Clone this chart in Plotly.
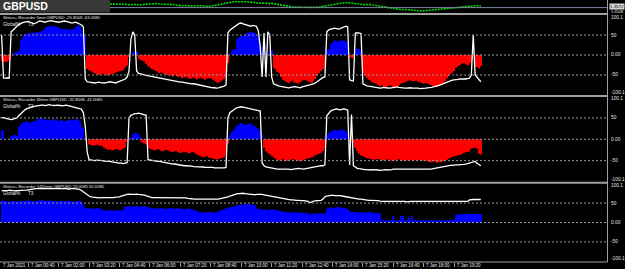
import plotly.graph_objects as go

# ---------------- data ----------------
symbol = "GBPUSD"
bar_minutes = [-30 + 5 * i for i in range(253)]  # 5-min bars, minutes from 7 Jan 00:00

h1 = ([-15, -17, -18, -17, -14] + [0, 0] + [6, 8, 10] + [38, 42] +
      [50, 52, 55, 54, 56, 55, 57, 56, 58, 60, 62] +
      [68, 70, 72, 71, 73, 72, 70, 68, 66, 65, 64, 66, 65, 63, 64, 65] +
      [70, 75, 72, 66, 55] + [48] +
      [-35, -38, -40, -44, -46, -48, -50, -49, -47, -48, -50, -51, -49, -48, -46, -44, -42, -40, -40, -38, -32, -26] +
      [-5, 0] + [8, 9, 7] + [-8, -12, -14, -16] +
      [-22, -28, -32, -35, -38, -40, -42, -45, -44, -46, -48, -50, -47, -52, -54, -50] +
      [-52, -55, -54, -58, -56, -55, -57, -60, -58, -56, -59, -61, -58, -57, -60, -62, -59, -58] +
      [-58, -62, -66, -68, -70, -67, -64, -60, -55] + [-20, 0] + [12, 14, 15, 40] +
      [45, 48, 46, 52, 55] + [56, 58, 57, 55, 52] + [45, 30, 20] + [5, 0, 0, 10, 12] +
      [-30, -35, -42, -45, -55, -62, -65, -68, -70, -66, -64, -68, -70, -72, -68, -65, -62, -64, -66, -68, -70, -65, -60, -52, -45, -40, -35, -30] +
      [12, 15, 28, 32, 35, 36, 34, 35, 37, 36, 34, 30] + [-5, -8, -6] + [14, 16, 15, 12] +
      [-45, -52, -58, -62, -65, -68, -70, -72, -75, -78, -76, -80, -82, -78, -75, -77, -80, -82, -79, -76, -72, -70, -68, -66, -64, -63] +
      [-65, -66, -64, -67, -68, -70, -72, -70, -72, -74, -76] +
      [-78, -80, -79, -77, -75, -72, -65, -58] + [-52, -48, -45, -40, -32, -28] +
      [-25, -22, -20, -24, -26, -22, -18] + [0] + [-28, -30, -34, -28])

l1 = ([50] + [-58, -58, -57, -58] + [58] + [62, 68, 72, 76, 79, 81, 82] +
      [83, 84, 82, 80, 78, 80, 83, 85, 84, 83, 82, 84, 85, 86, 85, 84, 83, 82, 83, 84, 85, 84, 83, 82, 80, 81, 82, 80, 78, 75, 70] +
      [-60] +
      [-67, -68, -69, -70, -70, -69, -68, -69, -70, -70, -69, -68, -67, -68, -69, -70, -68, -66, -64, -62, -60, -55] +
      [-40, 40, 58, 50, -40] +
      [-46, -48, -50, -50, -51, -52, -52, -53, -54, -55, -56, -58, -59, -60, -60, -61, -62, -63, -64, -65, -66, -67, -68, -68, -69, -70, -70, -71, -72, -72, -73, -74, -75, -76, -78, -79, -80, -80, -81] +
      [-82, -82, -83, -82, -81, -80, -78, -75] + [55] +
      [62, 66, 70, 72, 76, 79, 80, 78, 76, 74, 73, 72, 74, 73, 72] +
      [60, 20, -55, 55, -55, 58, 50, -55] +
      [-72, -75, -76, -78, -79, -80, -81, -82, -82, -81, -80, -79, -80, -81, -82, -80, -78, -77, -76, -75, -74, -72, -70, -66, -62, -58, -56, -55] +
      [58, 63, 65, 66, 67, 66, 65, 66, 68, 70, 72, 70] + [-62, -64, -65] + [55, 56, 55, 54] +
      [-72, -75, -77, -78, -79, -80, -80, -81, -82, -83, -82, -81, -82, -83, -83, -82, -81, -80, -80, -81, -82, -82, -83, -83, -82, -82] +
      [-83, -83, -82, -83, -84, -84, -83, -83, -82, -82, -81] +
      [-80, -79, -78, -76, -74, -72, -70, -68, -66, -64, -63, -62, -62, -61] +
      [-60, -60, -61, -60, -59, -58] + [-50] + [50] + [-50] + [-55, -62, -67])

h2 = ([21, 20] + [0, 0, 0] + [8, 9, 10, 9] + [30, 35, 38, 40, 42, 40, 38, 41, 42, 44] +
      [48, 49, 47, 48] +
      [45, 46, 44, 45, 47, 46, 44, 43, 45, 44, 42, 43, 45, 46, 44, 45, 48, 46, 42] + [30, 26] + [0, 0] +
      [-12, -14, -15, -14, -13, -14, -15, -16] +
      [-20, -22, -25, -24, -26, -25, -23, -24, -26, -25, -22, -20] + [-5, 0, 2] + [12, 15, 14, 10] +
      [5, -8, -10, -12] +
      [-20, -22, -24, -26, -25, -23, -24, -27, -28, -26, -25, -27, -29, -30, -28, -27, -30, -32, -31, -29, -30, -33, -32, -30, -31, -34, -36, -38, -40, -42, -41, -40, -43, -44] +
      [-45, -46, -48, -47, -45, -44, -42, -35] +
      [-10, 10, 18, 22, 28, 32, 35, 38, 36, 34, 35, 37, 36, 33, 30, 28, 25, 20, 10] +
      [-20, -28, -32, -36, -40, -42, -45, -48, -50, -48, -47, -49, -51, -50, -48, -46, -47, -49, -50, -52, -50, -48, -46, -45, -44, -42, -40, -38, -36, -34, -32, -28, -20] +
      [10, 15, 18, 20, 22, 21, 20, 22, 23, 21, 18, 15] + [-5, 0, -10] +
      [-20, -28, -34, -38, -40, -42, -44, -45, -46, -47, -48, -47, -46, -48, -49, -50, -48, -47, -49, -50, -51, -50, -48, -47, -49, -50, -51, -50, -49, -48] +
      [-49, -50, -49, -48, -49, -50, -51, -50, -52] +
      [-53, -54, -52, -53, -55, -54, -53, -52, -50, -48] + [-45, -43, -42, -40, -39, -37] +
      [-37, -35, -32, -30, -30, -28] + [-22, -21, -20, -22] + [-34, -36])

l2 = ([51, 50] + [48, 47, 46, 46, 47, 48, 50, 55, 60, 64, 68, 71, 73] +
      [75, 76, 77, 78, 79, 79, 80, 80, 79, 80, 81, 80, 79, 79, 80, 80, 79, 78, 79, 80, 79, 78, 77, 76, 75, 74, 72, 70] +
      [62, 30, -30] +
      [-48, -49, -49, -50, -49, -49, -50, -50, -51, -51, -52, -52, -53, -54, -55, -55, -56] +
      [-56, -57, -56, -55] + [50] + [56, 58, 60, 60, 61, 60, 59, 58, 56] + [-48] +
      [-49, -50, -50, -51, -52, -52, -53, -54, -55, -55, -56, -57, -58, -58, -59, -60, -60, -61, -62, -62, -62, -63, -63, -64, -64, -64, -65, -65, -65, -66, -66, -66, -65] +
      [-66, -67, -67, -68, -68, -67, -67, -66] + [50] +
      [62, 66, 70, 72, 74, 75, 76, 75, 74, 73, 72, 71, 70, 70, 69, 68, 66] + [-55] +
      [-62, -65, -66, -67, -68, -68, -69, -70, -70, -70, -69, -69, -70, -70, -71, -70, -69, -68, -68, -69, -70, -70, -69, -68, -67, -66, -66, -65, -64, -63, -62, -62, -60] +
      [55, 62, 66, 68, 70, 71, 70, 69, 70, 71, 70, 68] + [-60, 58, -62] +
      [-66, -68, -69, -70, -70, -71, -71, -72, -72, -71, -71, -72, -72, -73, -72, -71, -71, -72, -72, -71, -70, -70, -70, -71, -71, -70, -70, -70, -70, -70] +
      [-70, -71, -71, -70, -70, -71, -71, -71, -70, -70, -70, -69, -68, -67] +
      [-66, -65, -64, -63, -62, -62, -61, -61, -60, -60, -60] +
      [-60, -60, -59, -58, -57, -55, -54] + [-53, -52] + [-56, -60, -62])

h3 = ([56, 57, 56, 54, 53, 54, 55, 54, 53, 55, 56, 55, 54, 56, 57, 56, 55, 54, 55, 56, 57, 58, 57, 56, 55, 56, 57, 56, 55, 54, 55, 56, 55, 54, 55, 56, 55, 54, 53, 54, 55, 56, 52, 48] +
      [38, 36, 37, 36, 35, 36, 37, 36, 35, 34] +
      [31, 30, 31, 32, 31, 30, 31, 32, 31, 30, 33] +
      [40, 41, 42, 41, 40, 42, 43, 41, 40, 41, 42, 41, 40, 38] +
      [36, 37, 36, 35, 36, 37, 36, 35, 36, 36, 37, 36, 35, 36, 37, 36, 35, 34, 35, 36, 35, 34, 33, 30, 28] +
      [26, 27, 26, 25, 26, 27, 26, 25, 26, 27, 28, 30] +
      [32, 34, 36, 38, 39, 40, 42, 44, 45, 45, 46] +
      [46, 47, 48, 47, 46, 45, 44, 40, 36] +
      [34, 33, 34, 33, 32, 33, 34, 33, 32, 31, 30, 29, 28] +
      [26, 27, 26, 25, 26, 27, 26, 25, 26, 25, 24, 25, 24] +
      [20, 23, 24, 23, 22, 23, 24, 23, 24] +
      [36, 38, 39, 38, 37, 38, 40, 39, 38, 37, 36, 34] +
      [28, 27, 26, 27, 26, 25, 26, 27, 26, 25, 26, 27, 26, 25, 24, 25, 24] +
      [6, 5, 5, 6, 5, 5] + [17, 5, 6, 5, 18, 17, 5, 6, 12, 5] +
      [17, 5, 6, 5, 5, 6, 5, 5, 6, 5, 5, 6, 5, 5, 6, 5, 5, 6, 5, 6, 5, 7, 8] +
      [20, 21, 22, 21, 22, 21, 22, 21, 22, 22, 21, 22, 22, 21])

l3 = ([82, 82, 81, 82, 83, 82, 82, 81, 82, 82, 83, 82, 82, 83, 84, 85, 86, 86] +
      [87, 87, 87, 88, 87, 87, 87, 88, 88, 87, 87, 87, 87, 87, 88, 87, 87, 86, 87, 87, 87, 86, 86, 85] +
      [82, 78, 74, 70, 68] +
      [66, 65, 64, 64, 64, 63, 64, 64, 64, 63, 64, 64, 64, 65, 65, 66, 68, 70] +
      [72, 72, 73, 72, 72, 72, 73, 72, 72, 71, 70, 68, 66] +
      [65, 64, 64, 64, 64, 63, 64, 64, 64, 64, 63, 63, 64, 64, 64, 63, 63, 64, 63, 63, 62, 62, 61, 60, 60, 59] +
      [59, 59, 59, 59, 60, 60, 60, 60, 60, 60, 60, 61, 62, 63, 64] +
      [66, 68, 70, 72, 73, 74, 74, 75, 75, 74, 73, 72, 72] +
      [72, 71, 72, 72, 73, 72, 71, 70, 69, 68] +
      [67, 66, 65, 64, 63, 62, 61, 60, 60, 59, 58, 58, 57, 57, 57, 56, 56, 56, 55, 54] +
      [51, 52] + [55, 56, 56, 56, 57, 60] +
      [66, 68, 69, 69, 70, 69, 69, 70, 69, 68, 67, 66, 65] +
      [64, 63, 62, 62, 61, 60, 60, 59, 58, 58, 57, 57, 57, 56, 56, 56, 55] +
      [54, 54, 54, 54, 55, 54, 54, 54, 54, 54, 54, 54, 54, 53, 54, 54, 54, 54, 54, 54, 54, 54, 54,
       54, 54, 54, 54, 54, 54, 54, 54, 54, 54, 54, 54, 54, 54, 54, 54, 54, 54, 54, 54, 54, 54, 54] +
      [58, 59, 59, 59, 59, 59, 59])

price_start = 57
price = ([1.35900, 1.35885, 1.35875, 1.35890, 1.35900, 1.35910, 1.35900, 1.35885, 1.35870, 1.35860, 1.35850, 1.35860,
          1.35875, 1.35885, 1.35875, 1.35860, 1.35850, 1.35865, 1.35880, 1.35890, 1.35900, 1.35910, 1.35920, 1.35925] +
         [1.35920, 1.35910, 1.35900, 1.35890, 1.35875, 1.35865, 1.35875, 1.35885, 1.35870, 1.35850, 1.35835, 1.35825,
          1.35810, 1.35800, 1.35810, 1.35825, 1.35815, 1.35800, 1.35790, 1.35800, 1.35810, 1.35820, 1.35825] +
         [1.35820, 1.35810, 1.35800, 1.35790, 1.35775, 1.35785, 1.35800, 1.35810, 1.35825, 1.35840, 1.35850, 1.35875,
          1.35900, 1.35925, 1.35950, 1.35970, 1.35985, 1.36000] +
         [1.36010, 1.36015, 1.36020, 1.36010, 1.36000, 1.36005, 1.36015, 1.36010, 1.36000, 1.35985] +
         [1.35970, 1.35950, 1.35940, 1.35930, 1.35940, 1.35950, 1.35935, 1.35920, 1.35910, 1.35920, 1.35930, 1.35915,
          1.35900, 1.35880, 1.35860, 1.35840, 1.35820] +
         [1.35800, 1.35785, 1.35775, 1.35760, 1.35750, 1.35740, 1.35750, 1.35760, 1.35750, 1.35740, 1.35730, 1.35735,
          1.35740, 1.35735] +
         [1.35730, 1.35725, 1.35735, 1.35740, 1.35750, 1.35760] +
         [1.35775, 1.35790, 1.35810, 1.35825, 1.35850, 1.35870, 1.35890, 1.35910, 1.35925, 1.35940, 1.35950, 1.35960,
          1.35965, 1.35970, 1.35960] +
         [1.35950, 1.35935, 1.35920, 1.35910, 1.35900, 1.35885, 1.35870, 1.35860, 1.35870, 1.35880, 1.35870, 1.35850,
          1.35835, 1.35820, 1.35800] +
         [1.35780, 1.35760, 1.35740, 1.35720, 1.35700, 1.35685, 1.35670, 1.35660, 1.35650, 1.35640, 1.35630, 1.35620,
          1.35625, 1.35635, 1.35625, 1.35610, 1.35600] +
         [1.35585, 1.35570, 1.35560, 1.35550, 1.35540, 1.35550, 1.35560, 1.35570, 1.35580, 1.35590, 1.35600, 1.35610,
          1.35620, 1.35635] +
         [1.35650, 1.35660, 1.35670, 1.35680, 1.35690, 1.35700, 1.35710, 1.35720, 1.35725, 1.35730, 1.35740, 1.35750,
          1.35760, 1.35770, 1.35780, 1.35790, 1.35800, 1.35810, 1.35820, 1.35825, 1.35820, 1.35810, 1.35800])
bid_price = 1.3572
price_labels = ["1.3572", "1.3548"]

tick_minutes = [40, 120, 200, 280, 360, 440, 520, 600, 680, 760, 840, 920, 1000, 1080, 1160]
tick_labels = ["7 Jan 00:40", "7 Jan 02:00", "7 Jan 03:20", "7 Jan 04:40", "7 Jan 06:00", "7 Jan 07:20",
               "7 Jan 08:40", "7 Jan 10:00", "7 Jan 11:20", "7 Jan 12:40", "7 Jan 14:00", "7 Jan 15:20",
               "7 Jan 16:40", "7 Jan 18:00", "7 Jan 19:20"]
first_label = "7 Jan 2021"

pane_titles = ["Shitco+ Recorder 5min GBPUSD -25.8008 -63.0080",
               "Shitco+ Recorder 60min GBPUSD -32.8008 -41.0080",
               "Shitco+ Recorder 1440min GBPUSD 23.0080 50.0080"]
pane_sub = ["Global%", "T3"]
level_vals = [50, 0, -50]
level_labels = ["50", "0.00", "-50"]
edge_labels = ["100.1", "-100.1"]

# ---------------- layout helpers ----------------
W, H = 625, 269
def fy(px): return 1 - px / H
def fx(px): return px / W

AX_X = 607.5
BG = "#000000"
GRAY = "#a0a0a0"
TXT = "#e6e6e6"
FONT = "Liberation Sans, Arial, sans-serif"

panes = [  # (yaxis name, top px, bottom px, hist, line)
    ("y2", 15, 95, h1, l1),
    ("y3", 96.5, 182, h2, l2),
    ("y4", 183.5, 261.5, h3, l3),
]

fig = go.Figure()

# price pane
fig.add_trace(go.Scatter(x=bar_minutes[price_start:price_start + len(price)], y=price, mode="lines",
                         line=dict(color="#00e000", width=1.6, dash="2px,1px"),
                         xaxis="x", yaxis="y", hoverinfo="skip"))

for yname, top, bot, hist, line in panes:
    cols = ["#0000ff" if v > 0 else "#ff0000" for v in hist]
    fig.add_trace(go.Bar(x=bar_minutes, y=hist, width=2.6, marker=dict(color=cols, line=dict(width=0)),
                         xaxis="x", yaxis=yname, hoverinfo="skip"))
    fig.add_trace(go.Scatter(x=bar_minutes, y=line, mode="lines", line=dict(color="#ffffff", width=1.3),
                             xaxis="x", yaxis=yname, hoverinfo="skip"))

shapes = []
annotations = []

# symbol box and bid line
shapes.append(dict(type="line", xref="paper", yref="y", x0=0, x1=fx(AX_X), y0=bid_price, y1=bid_price,
                   line=dict(color="#7d84a0", width=1)))
shapes.append(dict(type="rect", xref="paper", yref="paper", x0=0, x1=fx(110), y0=fy(12.5), y1=1,
                   fillcolor="#383838", line=dict(width=0)))
annotations.append(dict(xref="paper", yref="paper", x=fx(0.5), y=fy(6.3), text="<b>%s</b>" % symbol,
                        showarrow=False, xanchor="left", yanchor="middle",
                        font=dict(family=FONT, size=10.5, color="#ffffff")))
annotations.append(dict(xref="paper", yref="paper", x=fx(609), y=fy(6.2), text=price_labels[0], showarrow=False,
                        xanchor="left", yanchor="middle", bgcolor="#d8d8d8", borderpad=0,
                        font=dict(family=FONT, size=4.4, color="#000000")))
annotations.append(dict(xref="paper", yref="paper", x=fx(609), y=fy(11.6), text=price_labels[1], showarrow=False,
                        xanchor="left", yanchor="middle", font=dict(family=FONT, size=4.0, color=TXT)))

# separators and axis line
for ypx, wd in [(14, 2), (96, 2), (182.8, 2), (262, 1)]:
    shapes.append(dict(type="line", xref="paper", yref="paper", x0=0, x1=fx(AX_X), y0=fy(ypx), y1=fy(ypx),
                       line=dict(color=GRAY, width=wd)))
shapes.append(dict(type="line", xref="paper", yref="paper", x0=fx(AX_X), x1=fx(AX_X), y0=fy(262), y1=1,
                   line=dict(color=GRAY, width=1)))

for k, (yname, top, bot, hist, line) in enumerate(panes):
    for v, lab in zip(level_vals, level_labels):
        shapes.append(dict(type="line", xref="paper", yref=yname, x0=0, x1=fx(AX_X), y0=v, y1=v,
                           line=dict(color="#9a9a9a", width=1, dash="2px,2px")))
        annotations.append(dict(xref="paper", yref=yname, x=fx(609), y=v, text=lab, showarrow=False,
                                xanchor="left", yanchor="middle", font=dict(family=FONT, size=4.8, color=TXT)))
    annotations.append(dict(xref="paper", yref="paper", x=fx(609), y=fy(top + 2.3), text=edge_labels[0],
                            showarrow=False, xanchor="left", yanchor="middle",
                            font=dict(family=FONT, size=4.8, color=TXT)))
    annotations.append(dict(xref="paper", yref="paper", x=fx(609), y=fy(bot - 2.6), text=edge_labels[1],
                            showarrow=False, xanchor="left", yanchor="middle",
                            font=dict(family=FONT, size=4.8, color=TXT)))
    annotations.append(dict(xref="paper", yref="paper", x=fx(0.5), y=fy(top + 2.6), text=pane_titles[k],
                            showarrow=False, xanchor="left", yanchor="middle",
                            font=dict(family=FONT, size=4.2, color=TXT)))
    annotations.append(dict(xref="paper", yref="paper", x=fx(0.5), y=fy(top + 9.8), text=pane_sub[0],
                            showarrow=False, xanchor="left", yanchor="middle",
                            font=dict(family=FONT, size=4.6, color=TXT)))
    annotations.append(dict(xref="paper", yref="paper", x=fx(26), y=fy(top + 9.8), text=pane_sub[1],
                            showarrow=False, xanchor="left", yanchor="middle",
                            font=dict(family=FONT, size=4.6, color=TXT)))

# x labels
for m, lab in zip(tick_minutes, tick_labels):
    annotations.append(dict(xref="x", yref="paper", x=m, y=fy(265.6), text=lab, showarrow=False,
                            xanchor="left", yanchor="middle", xshift=0.5,
                            font=dict(family=FONT, size=4.5, color=TXT)))
annotations.append(dict(xref="paper", yref="paper", x=fx(0.5), y=fy(265.6), text=first_label, showarrow=False,
                        xanchor="left", yanchor="middle", font=dict(family=FONT, size=4.5, color=TXT)))

pane_axis = dict(range=[-100.1, 100.1], showgrid=False, zeroline=False, showticklabels=False,
                 showline=False, fixedrange=True)
fig.update_layout(
    width=W, height=H, margin=dict(l=0, r=0, t=0, b=0),
    paper_bgcolor=BG, plot_bgcolor=BG, showlegend=False,
    xaxis=dict(domain=[0, fx(AX_X)], range=[-34.2, 1563], anchor="y4", showgrid=False, zeroline=False,
               showline=False, showticklabels=False, ticks="outside", tickvals=tick_minutes,
               ticklen=4, tickwidth=1, tickcolor=GRAY),
    yaxis=dict(domain=[fy(13), 1], range=[1.3545, 1.3610], showgrid=False, zeroline=False,
               showticklabels=False, anchor="x"),
    yaxis2=dict(domain=[fy(95), fy(15)], anchor="x", **pane_axis),
    yaxis3=dict(domain=[fy(182), fy(96.5)], anchor="x", **pane_axis),
    yaxis4=dict(domain=[fy(261.5), fy(183.5)], anchor="x", **pane_axis),
    shapes=shapes, annotations=annotations,
)

fig.write_html("out.html")
